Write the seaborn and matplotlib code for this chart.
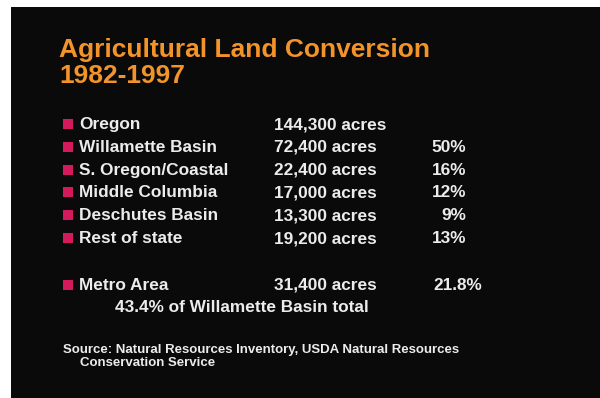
import matplotlib
matplotlib.use("Agg")
import matplotlib.pyplot as plt
import seaborn as sns
import pandas as pd

# Slide content
title_lines = ["Agricultural Land Conversion", "1982-1997"]
regions = ["Oregon", "Willamette Basin", "S. Oregon/Coastal", "Middle Columbia",
           "Deschutes Basin", "Rest of state"]
acres = [144300, 72400, 22400, 17000, 13300, 19200]
shares = [None, 50, 16, 12, 9, 13]
metro_region = "Metro Area"
metro_acres = 31400
metro_share = 21.8
metro_note = "43.4% of Willamette Basin total"
source_lines = ["Source: Natural Resources Inventory, USDA Natural Resources",
                "Conservation Service"]

sns.set_theme(style="dark")
plt.rcParams["font.family"] = ["Liberation Sans", "DejaVu Sans"]

BG = "#0a0a0a"
TXT = "#ececec"
ORANGE = "#F3942B"
BULLET = "#D41A5C"

fig = plt.figure(figsize=(6.0, 3.98), dpi=100, facecolor="white")
# dark slide panel, axes units are figure pixels (y grows downward)
ax = fig.add_axes([11 / 600, 0, 589 / 600, 391 / 398])
ax.set_facecolor(BG)
ax.add_patch(plt.Rectangle((11, 7), 589, 391, color=BG, zorder=0))

# title
for i, line in enumerate(title_lines):
    ax.text(59, 57 + i * 26, line, color=ORANGE, fontsize=19, fontweight="bold",
            va="baseline", ha="left")

# table rows
first_base, step = 129, 22.8
bases = [first_base + i * step for i in range(len(regions))]
metro_base = 290
all_bases = bases + [metro_base]

table = pd.DataFrame({
    "region": regions + [metro_region],
    "acres": acres + [metro_acres],
    "share": shares + [metro_share],
    "base": all_bases,
})
table["bx"] = 68
table["by"] = table["base"] - 5

sns.scatterplot(data=table, x="bx", y="by", marker="s", s=52, color=BULLET,
                edgecolor="none", ax=ax, zorder=3, legend=False)
ax.set_xlim(11, 600)
ax.set_ylim(398, 7)
ax.set_axis_off()

fs = 12.4
for _, r in table.iterrows():
    ax.text(79, r["base"], r["region"], color=TXT, fontsize=fs, fontweight="bold",
            va="baseline", ha="left")
    ax.text(274, r["base"], f"{int(r['acres']):,} acres", color=TXT, fontsize=fs,
            fontweight="bold", va="baseline", ha="left")
    if pd.notna(r["share"]):
        label = f"{r['share']:g}%"
        xr = 482 if r["region"] == metro_region else 466
        ax.text(xr, r["base"], label, color=TXT, fontsize=fs, fontweight="bold",
                va="baseline", ha="right")

ax.text(115, 312, metro_note, color=TXT, fontsize=fs, fontweight="bold",
        va="baseline", ha="left")

# source note
src_font = ["Liberation Sans Narrow", "Liberation Sans", "DejaVu Sans"]
ax.text(63, 353.5, source_lines[0], color=TXT, fontsize=9.5, fontweight="bold",
        va="baseline", ha="left", family=src_font)
ax.text(80, 366, source_lines[1], color=TXT, fontsize=9.5, fontweight="bold",
        va="baseline", ha="left", family=src_font)

fig.savefig("out.png", dpi=100, facecolor="white")
